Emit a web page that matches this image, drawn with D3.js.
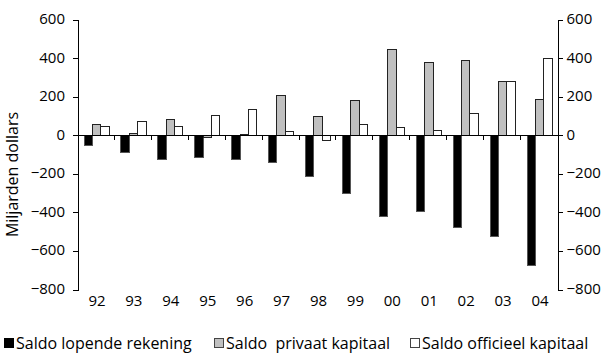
<!DOCTYPE html>
<html>
<head>
<meta charset="utf-8">
<script src="https://cdn.jsdelivr.net/npm/d3@7/dist/d3.min.js"></script>
<style>
  html, body { margin: 0; padding: 0; background: #fff; }
  svg text { font-family: "Open Sans", "DejaVu Sans", sans-serif; fill: #000; }
</style>
</head>
<body>
<svg id="chart" width="601" height="356"></svg>
<script>
// Jaren (1992–2004)
const years = ["92","93","94","95","96","97","98","99","00","01","02","03","04"];
// Saldo lopende rekening (miljarden dollars)
const lopendeRekening = [-54, -89, -125, -117, -128, -142, -216, -304, -420, -394, -479, -524, -673];
// Saldo privaat kapitaal
const privaatKapitaal = [54, 10, 82, -12, 5, 204, 96, 181, 446, 379, 389, 280, 186];
// Saldo officieel kapitaal
const officieelKapitaal = [44, 70, 46, 100, 133, 20, -26, 55, 41, 24, 114, 280, 400];
const yTicks = [600, 400, 200, 0, -200, -400, -600, -800];
const seriesNames = ["Saldo lopende rekening", "Saldo  privaat kapitaal", "Saldo officieel kapitaal"];
const seriesFill = ["#000000", "#c0c0c0", "#ffffff"];
const seriesStroke = ["#555555", "#222222", "#222222"];

const tickFont = 15, textFont = 16;
const svg = d3.select("#chart");
const plotLeft = 77.5, plotRight = 557.5, plotTop = 19.5, plotBottom = 289.5;

const x = d3.scaleBand().domain(years).range([plotLeft, plotRight]);
const y = d3.scaleLinear().domain([-800, 600]).range([plotBottom, plotTop]);
const series = [lopendeRekening, privaatKapitaal, officieelKapitaal];
const inner = d3.scaleBand().domain([0, 1, 2])
  .range([0, x.bandwidth()]).paddingInner(0).paddingOuter(0.71).align(0.55);

// Bars
series.forEach((vals, s) => {
  svg.append("g").selectAll("rect").data(vals).join("rect")
    .attr("x", (d, i) => x(years[i]) + inner(s))
    .attr("width", inner.bandwidth())
    .attr("y", d => y(Math.max(0, d)))
    .attr("height", d => Math.abs(y(d) - y(0)))
    .attr("fill", seriesFill[s])
    .attr("stroke", seriesStroke[s])
    .attr("stroke-width", 1)
    .attr("shape-rendering", "crispEdges");
});

// Zero line with category separators
const zeroY = y(0);
svg.append("line")
  .attr("x1", plotLeft).attr("x2", plotRight)
  .attr("y1", zeroY).attr("y2", zeroY)
  .attr("stroke", "#000").attr("stroke-width", 1)
  .attr("shape-rendering", "crispEdges");
svg.append("g").selectAll("line").data(years.slice(1)).join("line")
  .attr("x1", d => x(d)).attr("x2", d => x(d))
  .attr("y1", zeroY).attr("y2", zeroY + 5)
  .attr("stroke", "#000").attr("stroke-width", 1)
  .attr("shape-rendering", "crispEdges");

// Category labels
svg.append("g").selectAll("text").data(years).join("text")
  .attr("x", d => x(d) + x.bandwidth() / 2 + 1)
  .attr("y", 306)
  .attr("text-anchor", "middle")
  .attr("font-size", tickFont)
  .text(d => d);

// Left and right value axes
const leftAxis = d3.axisLeft(y).tickValues(yTicks).tickSize(5).tickPadding(7.5).tickFormat(d3.format("d"));
const rightAxis = d3.axisRight(y).tickValues(yTicks).tickSize(5).tickPadding(4).tickFormat(d3.format("d"));
[[leftAxis, plotLeft], [rightAxis, plotRight]].forEach(([ax, px]) => {
  const g = svg.append("g").attr("transform", `translate(${px},0)`).call(ax);
  g.selectAll("path").attr("stroke", "#000").attr("shape-rendering", "crispEdges");
  g.selectAll("line").attr("stroke", "#000").attr("shape-rendering", "crispEdges");
  g.selectAll("text").attr("font-size", tickFont).attr("dy", "0.27em")
    .attr("font-family", "\"Open Sans\", sans-serif").attr("fill", "#000");
});

// Axis title
svg.append("text")
  .attr("transform", `translate(18,${(plotTop + plotBottom) / 2 + 20}) rotate(-90)`)
  .attr("text-anchor", "middle")
  .attr("font-size", textFont)
  .text("Miljarden dollars");

// Legend
const legendX = [4, 214, 410];
const legend = svg.append("g");
seriesNames.forEach((name, s) => {
  legend.append("rect")
    .attr("x", legendX[s] + 0.5).attr("y", 338.5)
    .attr("width", 9).attr("height", 9)
    .attr("fill", seriesFill[s])
    .attr("stroke", s === 0 ? "#000" : "#444")
    .attr("stroke-width", 1);
  legend.append("text")
    .attr("x", legendX[s] + 12).attr("y", 349)
    .attr("font-size", textFont)
    .attr("xml:space", "preserve")
    .style("white-space", "pre")
    .text(name);
});
</script>
</body>
</html>
